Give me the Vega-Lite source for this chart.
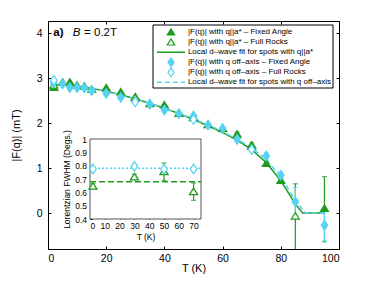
{
  "$schema": "https://vega.github.io/schema/vega-lite/v6.json",
  "width": 291,
  "height": 228,
  "autosize": {"type": "none"},
  "padding": {"left": 48, "top": 21, "right": 35, "bottom": 32},
  "background": "white",
  "config": {
    "font": "Liberation Sans",
    "view": {"stroke": "black", "strokeWidth": 1},
    "axis": {"grid": false, "domain": false, "labelFont": "Liberation Sans", "titleFont": "Liberation Sans", "labelColor": "black", "titleColor": "black", "tickColor": "black", "titleFontWeight": "normal"}
  },
  "datasets": {
    "fit": [
      {"T": 1, "F": 2.86, "s": "Local d–wave fit for spots with q||a*"},
      {"T": 5, "F": 2.85, "s": "Local d–wave fit for spots with q||a*"},
      {"T": 10, "F": 2.82, "s": "Local d–wave fit for spots with q||a*"},
      {"T": 15, "F": 2.77, "s": "Local d–wave fit for spots with q||a*"},
      {"T": 20, "F": 2.71, "s": "Local d–wave fit for spots with q||a*"},
      {"T": 25, "F": 2.63, "s": "Local d–wave fit for spots with q||a*"},
      {"T": 30, "F": 2.54, "s": "Local d–wave fit for spots with q||a*"},
      {"T": 35, "F": 2.44, "s": "Local d–wave fit for spots with q||a*"},
      {"T": 40, "F": 2.33, "s": "Local d–wave fit for spots with q||a*"},
      {"T": 45, "F": 2.21, "s": "Local d–wave fit for spots with q||a*"},
      {"T": 50, "F": 2.08, "s": "Local d–wave fit for spots with q||a*"},
      {"T": 55, "F": 1.94, "s": "Local d–wave fit for spots with q||a*"},
      {"T": 60, "F": 1.79, "s": "Local d–wave fit for spots with q||a*"},
      {"T": 65, "F": 1.62, "s": "Local d–wave fit for spots with q||a*"},
      {"T": 70, "F": 1.41, "s": "Local d–wave fit for spots with q||a*"},
      {"T": 75, "F": 1.12, "s": "Local d–wave fit for spots with q||a*"},
      {"T": 80, "F": 0.72, "s": "Local d–wave fit for spots with q||a*"},
      {"T": 85, "F": 0.2, "s": "Local d–wave fit for spots with q||a*"},
      {"T": 87.5, "F": 0, "s": "Local d–wave fit for spots with q||a*"},
      {"T": 95, "F": 0, "s": "Local d–wave fit for spots with q||a*"},
      {"T": 1, "F": 2.88, "s": "Local d–wave fit for spots with q off–axis"},
      {"T": 5, "F": 2.86, "s": "Local d–wave fit for spots with q off–axis"},
      {"T": 10, "F": 2.83, "s": "Local d–wave fit for spots with q off–axis"},
      {"T": 15, "F": 2.78, "s": "Local d–wave fit for spots with q off–axis"},
      {"T": 20, "F": 2.71, "s": "Local d–wave fit for spots with q off–axis"},
      {"T": 25, "F": 2.63, "s": "Local d–wave fit for spots with q off–axis"},
      {"T": 30, "F": 2.54, "s": "Local d–wave fit for spots with q off–axis"},
      {"T": 35, "F": 2.44, "s": "Local d–wave fit for spots with q off–axis"},
      {"T": 40, "F": 2.33, "s": "Local d–wave fit for spots with q off–axis"},
      {"T": 45, "F": 2.21, "s": "Local d–wave fit for spots with q off–axis"},
      {"T": 50, "F": 2.09, "s": "Local d–wave fit for spots with q off–axis"},
      {"T": 55, "F": 1.96, "s": "Local d–wave fit for spots with q off–axis"},
      {"T": 60, "F": 1.81, "s": "Local d–wave fit for spots with q off–axis"},
      {"T": 65, "F": 1.64, "s": "Local d–wave fit for spots with q off–axis"},
      {"T": 70, "F": 1.45, "s": "Local d–wave fit for spots with q off–axis"},
      {"T": 75, "F": 1.19, "s": "Local d–wave fit for spots with q off–axis"},
      {"T": 80, "F": 0.8, "s": "Local d–wave fit for spots with q off–axis"},
      {"T": 85, "F": 0.28, "s": "Local d–wave fit for spots with q off–axis"},
      {"T": 88.5, "F": 0, "s": "Local d–wave fit for spots with q off–axis"},
      {"T": 95, "F": 0, "s": "Local d–wave fit for spots with q off–axis"}
    ],
    "pts": [
      {"T": 2, "F": 2.79, "s": "|F(q)| with q||a* – Fixed Angle"},
      {"T": 5, "F": 2.91, "s": "|F(q)| with q||a* – Fixed Angle"},
      {"T": 7.5, "F": 2.91, "s": "|F(q)| with q||a* – Fixed Angle"},
      {"T": 10, "F": 2.84, "s": "|F(q)| with q||a* – Fixed Angle"},
      {"T": 12.5, "F": 2.82, "s": "|F(q)| with q||a* – Fixed Angle"},
      {"T": 15, "F": 2.75, "s": "|F(q)| with q||a* – Fixed Angle"},
      {"T": 20, "F": 2.78, "s": "|F(q)| with q||a* – Fixed Angle"},
      {"T": 25, "F": 2.69, "s": "|F(q)| with q||a* – Fixed Angle"},
      {"T": 30, "F": 2.58, "s": "|F(q)| with q||a* – Fixed Angle"},
      {"T": 35, "F": 2.43, "s": "|F(q)| with q||a* – Fixed Angle"},
      {"T": 40, "F": 2.4, "s": "|F(q)| with q||a* – Fixed Angle"},
      {"T": 45, "F": 2.21, "s": "|F(q)| with q||a* – Fixed Angle"},
      {"T": 50, "F": 2.13, "s": "|F(q)| with q||a* – Fixed Angle"},
      {"T": 55, "F": 1.96, "s": "|F(q)| with q||a* – Fixed Angle"},
      {"T": 60, "F": 1.88, "s": "|F(q)| with q||a* – Fixed Angle"},
      {"T": 65, "F": 1.75, "s": "|F(q)| with q||a* – Fixed Angle"},
      {"T": 70, "F": 1.51, "s": "|F(q)| with q||a* – Fixed Angle"},
      {"T": 75, "F": 1.1, "s": "|F(q)| with q||a* – Fixed Angle"},
      {"T": 80, "F": 0.72, "s": "|F(q)| with q||a* – Fixed Angle"},
      {"T": 95, "F": 0.1, "s": "|F(q)| with q||a* – Fixed Angle"},
      {"T": 2, "F": 2.84, "s": "|F(q)| with q||a* – Full Rocks"},
      {"T": 30, "F": 2.56, "s": "|F(q)| with q||a* – Full Rocks"},
      {"T": 50, "F": 2.12, "s": "|F(q)| with q||a* – Full Rocks"},
      {"T": 70, "F": 1.48, "s": "|F(q)| with q||a* – Full Rocks"},
      {"T": 85, "F": -0.07, "s": "|F(q)| with q||a* – Full Rocks"},
      {"T": 2, "F": 2.9, "s": "|F(q)| with q off–axis – Fixed Angle"},
      {"T": 5, "F": 2.87, "s": "|F(q)| with q off–axis – Fixed Angle"},
      {"T": 7.5, "F": 2.79, "s": "|F(q)| with q off–axis – Fixed Angle"},
      {"T": 10, "F": 2.79, "s": "|F(q)| with q off–axis – Fixed Angle"},
      {"T": 12.5, "F": 2.78, "s": "|F(q)| with q off–axis – Fixed Angle"},
      {"T": 15, "F": 2.72, "s": "|F(q)| with q off–axis – Fixed Angle"},
      {"T": 20, "F": 2.66, "s": "|F(q)| with q off–axis – Fixed Angle"},
      {"T": 25, "F": 2.57, "s": "|F(q)| with q off–axis – Fixed Angle"},
      {"T": 35, "F": 2.42, "s": "|F(q)| with q off–axis – Fixed Angle"},
      {"T": 40, "F": 2.29, "s": "|F(q)| with q off–axis – Fixed Angle"},
      {"T": 45, "F": 2.21, "s": "|F(q)| with q off–axis – Fixed Angle"},
      {"T": 50, "F": 2.16, "s": "|F(q)| with q off–axis – Fixed Angle"},
      {"T": 55, "F": 1.96, "s": "|F(q)| with q off–axis – Fixed Angle"},
      {"T": 60, "F": 1.88, "s": "|F(q)| with q off–axis – Fixed Angle"},
      {"T": 65, "F": 1.64, "s": "|F(q)| with q off–axis – Fixed Angle"},
      {"T": 75, "F": 1.27, "s": "|F(q)| with q off–axis – Fixed Angle"},
      {"T": 80, "F": 0.84, "s": "|F(q)| with q off–axis – Fixed Angle"},
      {"T": 85, "F": 0.25, "s": "|F(q)| with q off–axis – Fixed Angle"},
      {"T": 95, "F": -0.27, "s": "|F(q)| with q off–axis – Fixed Angle"},
      {"T": 2, "F": 2.95, "s": "|F(q)| with q off–axis – Full Rocks"},
      {"T": 30, "F": 2.47, "s": "|F(q)| with q off–axis – Full Rocks"},
      {"T": 50, "F": 2.08, "s": "|F(q)| with q off–axis – Full Rocks"},
      {"T": 70, "F": 1.41, "s": "|F(q)| with q off–axis – Full Rocks"}
    ],
    "err": [
      {"T": 65, "lo": 1.7, "hi": 1.8, "s": "|F(q)| with q||a* – Fixed Angle"},
      {"T": 70, "lo": 1.45, "hi": 1.56, "s": "|F(q)| with q||a* – Fixed Angle"},
      {"T": 75, "lo": 1.04, "hi": 1.16, "s": "|F(q)| with q||a* – Fixed Angle"},
      {"T": 80, "lo": 0.66, "hi": 0.78, "s": "|F(q)| with q||a* – Fixed Angle"},
      {"T": 95, "lo": -0.64, "hi": 0.81, "s": "|F(q)| with q||a* – Fixed Angle"},
      {"T": 85, "lo": -1.2, "hi": 0.65, "s": "|F(q)| with q||a* – Full Rocks"},
      {"T": 75, "lo": 1.2, "hi": 1.34, "s": "|F(q)| with q off–axis – Fixed Angle"},
      {"T": 80, "lo": 0.74, "hi": 0.92, "s": "|F(q)| with q off–axis – Fixed Angle"},
      {"T": 85, "lo": -0.1, "hi": 0.57, "s": "|F(q)| with q off–axis – Fixed Angle"},
      {"T": 95, "lo": -0.62, "hi": 0.05, "s": "|F(q)| with q off–axis – Fixed Angle"}
    ],
    "leg": [
      {"k": 0, "s": "|F(q)| with q||a* – Fixed Angle"},
      {"k": 1, "s": "|F(q)| with q||a* – Full Rocks"},
      {"k": 2, "s": "Local d–wave fit for spots with q||a*"},
      {"k": 3, "s": "|F(q)| with q off–axis – Fixed Angle"},
      {"k": 4, "s": "|F(q)| with q off–axis – Full Rocks"},
      {"k": 5, "s": "Local d–wave fit for spots with q off–axis"}
    ],
    "ins": [
      {"T": 2, "W": 0.645, "lo": 0.625, "hi": 0.665, "s": "g"},
      {"T": 30, "W": 0.715, "lo": 0.695, "hi": 0.735, "s": "g"},
      {"T": 50, "W": 0.755, "lo": 0.69, "hi": 0.82, "s": "g"},
      {"T": 70, "W": 0.605, "lo": 0.54, "hi": 0.67, "s": "g"},
      {"T": 2, "W": 0.775, "lo": 0.765, "hi": 0.785, "s": "c"},
      {"T": 30, "W": 0.795, "lo": 0.785, "hi": 0.805, "s": "c"},
      {"T": 50, "W": 0.775, "lo": 0.765, "hi": 0.785, "s": "c"},
      {"T": 70, "W": 0.775, "lo": 0.765, "hi": 0.785, "s": "c"}
    ]
  },
  "layer": [
    {
      "layer": [
        {
          "data": {"name": "fit"},
          "mark": {"type": "line", "strokeWidth": 1.5, "clip": true},
          "encoding": {
            "x": {"field": "T", "type": "quantitative", "scale": {"domain": [0, 100], "nice": false, "zero": false},
              "axis": {"orient": "bottom", "values": [0, 20, 40, 60, 80, 100], "title": "T (K)", "tickSize": -3, "labelPadding": 7, "labelFontSize": 10.5, "titleFontSize": 11, "titlePadding": -1}},
            "y": {"field": "F", "type": "quantitative", "scale": {"domain": [-0.8, 4.27], "nice": false, "zero": false},
              "axis": {"orient": "left", "values": [0, 1, 2, 3, 4], "title": "|F(q)| (mT)", "tickSize": -3, "labelPadding": 9, "labelFontSize": 10.5, "titleFontSize": 11, "titlePadding": 15}},
            "color": {"field": "s", "type": "nominal", "legend": null,
              "scale": {"domain": ["|F(q)| with q||a* – Fixed Angle", "|F(q)| with q||a* – Full Rocks", "Local d–wave fit for spots with q||a*", "|F(q)| with q off–axis – Fixed Angle", "|F(q)| with q off–axis – Full Rocks", "Local d–wave fit for spots with q off–axis"], "range": ["#1e9b1e", "#1e9b1e", "#1e9b1e", "#57d3f2", "#57d3f2", "#57d3f2"]}},
            "strokeDash": {"field": "s", "type": "nominal", "legend": null,
              "scale": {"domain": ["|F(q)| with q||a* – Fixed Angle", "|F(q)| with q||a* – Full Rocks", "Local d–wave fit for spots with q||a*", "|F(q)| with q off–axis – Fixed Angle", "|F(q)| with q off–axis – Full Rocks", "Local d–wave fit for spots with q off–axis"], "range": [[1, 0], [1, 0], [1, 0], [1, 0], [1, 0], [5, 3]]}}
          }
        },
        {
          "data": {"name": "err"},
          "mark": {"type": "rule", "strokeWidth": 1.2, "clip": true},
          "encoding": {
            "x": {"field": "T", "type": "quantitative", "scale": {"domain": [0, 100], "nice": false, "zero": false}, "axis": null},
            "y": {"field": "lo", "type": "quantitative", "scale": {"domain": [-0.8, 4.27], "nice": false, "zero": false}, "axis": null},
            "y2": {"field": "hi"},
            "color": {"field": "s", "type": "nominal", "legend": null}
          }
        },
        {
          "data": {"name": "err"},
          "mark": {"type": "tick", "orient": "horizontal", "size": 5, "thickness": 1.2, "clip": true},
          "encoding": {
            "x": {"field": "T", "type": "quantitative", "scale": {"domain": [0, 100], "nice": false, "zero": false}, "axis": null},
            "y": {"field": "hi", "type": "quantitative", "scale": {"domain": [-0.8, 4.27], "nice": false, "zero": false}, "axis": null},
            "color": {"field": "s", "type": "nominal", "legend": null}
          }
        },
        {
          "data": {"name": "err"},
          "mark": {"type": "tick", "orient": "horizontal", "size": 5, "thickness": 1.2, "clip": true},
          "encoding": {
            "x": {"field": "T", "type": "quantitative", "scale": {"domain": [0, 100], "nice": false, "zero": false}, "axis": null},
            "y": {"field": "lo", "type": "quantitative", "scale": {"domain": [-0.8, 4.27], "nice": false, "zero": false}, "axis": null},
            "color": {"field": "s", "type": "nominal", "legend": null}
          }
        },
        {
          "data": {"name": "pts"},
          "mark": {"type": "point", "filled": false, "opacity": 1, "strokeWidth": 1.2, "size": 64},
          "encoding": {
            "x": {"field": "T", "type": "quantitative", "scale": {"domain": [0, 100], "nice": false, "zero": false},
              "axis": {"orient": "top", "values": [0, 20, 40, 60, 80, 100], "labels": false, "title": null, "tickSize": -3}},
            "y": {"field": "F", "type": "quantitative", "scale": {"domain": [-0.8, 4.27], "nice": false, "zero": false},
              "axis": {"orient": "right", "values": [0, 1, 2, 3, 4], "labels": false, "title": null, "tickSize": -3}},
            "color": {"field": "s", "type": "nominal", "legend": null},
            "fill": {"field": "s", "type": "nominal", "legend": null,
              "scale": {"domain": ["|F(q)| with q||a* – Fixed Angle", "|F(q)| with q||a* – Full Rocks", "Local d–wave fit for spots with q||a*", "|F(q)| with q off–axis – Fixed Angle", "|F(q)| with q off–axis – Full Rocks", "Local d–wave fit for spots with q off–axis"], "range": ["#1e9b1e", "white", "#1e9b1e", "#57d3f2", "white", "#57d3f2"]}},
            "shape": {"field": "s", "type": "nominal", "legend": null,
              "scale": {"domain": ["|F(q)| with q||a* – Fixed Angle", "|F(q)| with q||a* – Full Rocks", "Local d–wave fit for spots with q||a*", "|F(q)| with q off–axis – Fixed Angle", "|F(q)| with q off–axis – Full Rocks", "Local d–wave fit for spots with q off–axis"], "range": ["M0,-0.9L1,0.72L-1,0.72Z", "M0,-0.9L1,0.72L-1,0.72Z", "M-3.5,0L3.5,0", "M0,-1.2L0.82,0L0,1.2L-0.82,0Z", "M0,-1.2L0.82,0L0,1.2L-0.82,0Z", "M-3.5,0L3.5,0"]}}
          }
        },
        {
          "data": {"values": [{}]},
          "mark": {"type": "text", "text": "a)", "fontWeight": "bold", "fontSize": 11.5, "align": "left", "baseline": "middle"},
          "encoding": {
            "x": {"datum": 1.8, "type": "quantitative", "scale": {"domain": [0, 100], "nice": false, "zero": false}, "axis": null},
            "y": {"datum": 4.0, "type": "quantitative", "scale": {"domain": [-0.8, 4.27], "nice": false, "zero": false}, "axis": null}
          }
        },
        {
          "data": {"values": [{}]},
          "mark": {"type": "text", "text": "B", "fontStyle": "italic", "fontSize": 11.5, "align": "left", "baseline": "middle"},
          "encoding": {
            "x": {"datum": 8.5, "type": "quantitative", "scale": {"domain": [0, 100], "nice": false, "zero": false}, "axis": null},
            "y": {"datum": 4.0, "type": "quantitative", "scale": {"domain": [-0.8, 4.27], "nice": false, "zero": false}, "axis": null}
          }
        },
        {
          "data": {"values": [{}]},
          "mark": {"type": "text", "text": "= 0.2T", "fontSize": 11.5, "align": "left", "baseline": "middle"},
          "encoding": {
            "x": {"datum": 12.4, "type": "quantitative", "scale": {"domain": [0, 100], "nice": false, "zero": false}, "axis": null},
            "y": {"datum": 4.0, "type": "quantitative", "scale": {"domain": [-0.8, 4.27], "nice": false, "zero": false}, "axis": null}
          }
        }
      ],
      "resolve": {"axis": {"x": "independent", "y": "independent"}}
    },
    {
      "layer": [
        {
          "data": {"values": [{}]},
          "mark": {"type": "rect", "fill": "white", "stroke": "black", "strokeWidth": 1},
          "encoding": {
            "x": {"datum": 0, "type": "quantitative", "scale": {"domain": [0, 1], "range": [105, 285], "nice": false, "zero": false}, "axis": null},
            "x2": {"datum": 1},
            "y": {"datum": -0.73, "type": "quantitative", "scale": {"domain": [0, 5], "range": [11.3, 61.3], "nice": false, "zero": false}, "axis": null},
            "y2": {"datum": 5.57}
          }
        },
        {
          "data": {"name": "leg"},
          "transform": [{"filter": {"field": "s", "oneOf": ["Local d–wave fit for spots with q||a*", "Local d–wave fit for spots with q off–axis"]}}],
          "mark": {"type": "rule", "strokeWidth": 1.5},
          "encoding": {
            "x": {"datum": 0.022, "type": "quantitative", "axis": null},
            "x2": {"datum": 0.178},
            "y": {"field": "k", "type": "quantitative", "axis": null},
            "color": {"field": "s", "type": "nominal", "legend": null},
            "strokeDash": {"field": "s", "type": "nominal", "legend": null}
          }
        },
        {
          "data": {"name": "leg"},
          "transform": [{"filter": {"not": {"field": "s", "oneOf": ["Local d–wave fit for spots with q||a*", "Local d–wave fit for spots with q off–axis"]}}}],
          "mark": {"type": "point", "filled": false, "opacity": 1, "strokeWidth": 1.2, "size": 56},
          "encoding": {
            "x": {"datum": 0.1, "type": "quantitative", "axis": null},
            "y": {"field": "k", "type": "quantitative", "axis": null},
            "color": {"field": "s", "type": "nominal", "legend": null},
            "fill": {"field": "s", "type": "nominal", "legend": null},
            "shape": {"field": "s", "type": "nominal", "legend": null}
          }
        },
        {
          "data": {"name": "leg"},
          "mark": {"type": "text", "align": "left", "baseline": "middle", "fontSize": 8, "color": "black"},
          "encoding": {
            "x": {"datum": 0.194, "type": "quantitative", "axis": null},
            "y": {"field": "k", "type": "quantitative", "axis": null},
            "text": {"field": "s"}
          }
        }
      ]
    },
    {
      "layer": [
        {
          "data": {"values": [{}]},
          "mark": {"type": "rect", "fill": "white", "stroke": "#555555", "strokeWidth": 1},
          "encoding": {
            "x": {"datum": 0, "type": "quantitative", "scale": {"domain": [0, 75], "range": [42, 153], "nice": false, "zero": false},
              "axis": {"orient": "bottom", "offset": -30, "values": [0, 10, 20, 30, 40, 50, 60, 70], "title": "T (K)", "tickSize": -2.5, "labelPadding": 5, "labelFontSize": 8.5, "titleFontSize": 8.5, "titlePadding": 2}},
            "x2": {"datum": 75},
            "y": {"datum": 0.4, "type": "quantitative", "scale": {"domain": [0.4, 1], "range": [198, 118], "nice": false, "zero": false},
              "axis": {"orient": "left", "offset": -42, "values": [0.4, 0.5, 0.6, 0.7, 0.8, 0.9, 1], "format": ".1~f", "title": "Lorentzian FWHM (Degs.)", "tickSize": -2.5, "labelPadding": 6, "labelFontSize": 8.5, "titleFontSize": 8.5, "titlePadding": 3}},
            "y2": {"datum": 1}
          }
        },
        {
          "data": {"values": [{}]},
          "mark": {"type": "rule", "color": "#1e9b1e", "strokeWidth": 1.5, "strokeDash": [6, 3]},
          "encoding": {
            "x": {"datum": 0, "type": "quantitative", "axis": null},
            "x2": {"datum": 75},
            "y": {"datum": 0.68, "type": "quantitative", "axis": null}
          }
        },
        {
          "data": {"values": [{}]},
          "mark": {"type": "rule", "color": "#57d3f2", "strokeWidth": 1.5, "strokeDash": [2, 2]},
          "encoding": {
            "x": {"datum": 0, "type": "quantitative", "axis": null},
            "x2": {"datum": 75},
            "y": {"datum": 0.78, "type": "quantitative", "axis": null}
          }
        },
        {
          "data": {"name": "ins"},
          "transform": [{"filter": "datum.s == 'g'"}],
          "mark": {"type": "rule", "color": "#1e9b1e", "strokeWidth": 1.2},
          "encoding": {
            "x": {"field": "T", "type": "quantitative", "axis": null},
            "y": {"field": "lo", "type": "quantitative", "axis": null},
            "y2": {"field": "hi"}
          }
        },
        {
          "data": {"name": "ins"},
          "transform": [{"filter": "datum.s == 'g'"}],
          "mark": {"type": "tick", "orient": "horizontal", "size": 5, "thickness": 1.2, "color": "#1e9b1e"},
          "encoding": {
            "x": {"field": "T", "type": "quantitative", "axis": null},
            "y": {"field": "hi", "type": "quantitative", "axis": null}
          }
        },
        {
          "data": {"name": "ins"},
          "transform": [{"filter": "datum.s == 'g'"}],
          "mark": {"type": "tick", "orient": "horizontal", "size": 5, "thickness": 1.2, "color": "#1e9b1e"},
          "encoding": {
            "x": {"field": "T", "type": "quantitative", "axis": null},
            "y": {"field": "lo", "type": "quantitative", "axis": null}
          }
        },
        {
          "data": {"name": "ins"},
          "transform": [{"filter": "datum.s == 'g'"}],
          "mark": {"type": "point", "filled": false, "fill": "white", "opacity": 1, "strokeWidth": 1.3, "size": 64, "color": "#1e9b1e", "shape": "M0,-0.9L1,0.72L-1,0.72Z"},
          "encoding": {
            "x": {"field": "T", "type": "quantitative", "axis": null},
            "y": {"field": "W", "type": "quantitative", "axis": null}
          }
        },
        {
          "data": {"name": "ins"},
          "transform": [{"filter": "datum.s == 'c'"}],
          "mark": {"type": "point", "filled": false, "fill": "white", "opacity": 1, "strokeWidth": 1.3, "size": 64, "color": "#57d3f2", "shape": "M0,-1.2L0.82,0L0,1.2L-0.82,0Z"},
          "encoding": {
            "x": {"field": "T", "type": "quantitative", "axis": null},
            "y": {"field": "W", "type": "quantitative", "axis": null}
          }
        }
      ],
      "resolve": {"axis": {"x": "independent", "y": "independent"}}
    }
  ],
  "resolve": {"scale": {"x": "independent", "y": "independent"}}
}
